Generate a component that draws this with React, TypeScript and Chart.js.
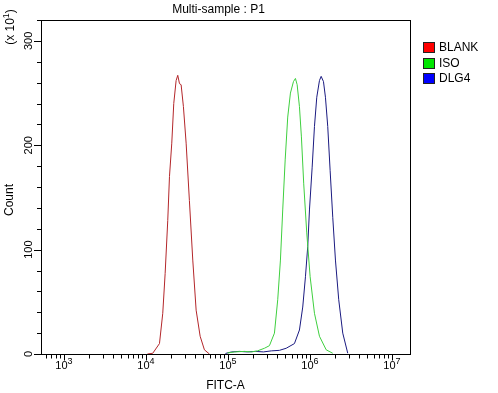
import React, { useEffect, useRef } from "react";
import { Chart, registerables } from "chart.js";

Chart.register(...registerables);

const FONT = "'Liberation Sans', Arial, sans-serif";

const TITLE = "Multi-sample : P1";
const X_TITLE = "FITC-A";
const Y_TITLE = "Count";
const Y_MULT_BASE = "(x 10";
const Y_MULT_EXP = "1";

const SERIES_LABELS = ["BLANK", "ISO", "DLG4"];
const LINE_COLORS = ["#b3262a", "#3fcf3f", "#1a1a80"];
const LEGEND_COLORS = ["#ff0000", "#00e600", "#0000ff"];

const X_MIN = 525;
const X_MAX = 1.66e7;
const Y_MIN = 0;
const Y_MAX = 320;
const Y_STEP = 20;
const Y_LABEL_EVERY = 100;

const blankX = [10420, 12100, 14620, 16030, 17140, 18450, 19360, 20650, 21830, 23330, 24430, 25650, 26850, 28640, 30900, 33880, 37240, 40930, 45810, 51640, 59430];
const blankY = [0, 0.7, 10, 39, 77, 128, 170, 202, 240, 262, 267, 259, 258, 237, 202, 147, 90, 42, 17, 4, 0];

const isoX = [98600, 119900, 158900, 193600, 229100, 278600, 320600, 369000, 404600, 436500, 465600, 498900, 535800, 578100, 629500, 665300, 698200, 744700, 787000, 839500, 914100, 1005000, 1135000, 1306000, 1578000, 1897000];
const isoY = [1, 2, 2.5, 2, 3, 5.5, 8, 20, 52, 90, 138, 186, 227, 250, 261, 264, 258, 237, 208, 163, 116, 74, 39, 17, 4, 0.7];

const dlg4X = [93200, 110400, 138000, 172900, 216300, 271000, 339000, 424300, 512900, 647100, 744700, 816600, 881000, 939800, 986300, 1064000, 1135000, 1211000, 1306000, 1370000, 1462000, 1545000, 1648000, 1762000, 1897000, 2046000, 2244000, 2512000, 2891000];
const dlg4Y = [0.5, 2, 2.5, 2, 2.5, 2, 3, 3.5, 5.5, 10, 23, 45, 74, 103, 138, 179, 218, 246, 262, 266, 261, 246, 218, 176, 131, 90, 52, 20, 0.7];

function toPoints(xs: number[], ys: number[]) {
  return xs.map((x, i) => ({ x, y: ys[i] }));
}

function isDecade(v: number) {
  const l = Math.log10(v);
  return Math.abs(l - Math.round(l)) < 1e-9;
}

// draws "base" followed by a raised smaller exponent, centred on (cx, baselineY) horizontally
function drawPower(ctx: any, base: string, exp: string, cx: number, baseY: number, size: number, supSize: number, rise: number, tail = "") {
  ctx.font = `${size}px ${FONT}`;
  const wb = ctx.measureText(base).width;
  const wt = tail ? ctx.measureText(tail).width : 0;
  ctx.font = `${supSize}px ${FONT}`;
  const we = ctx.measureText(exp).width;
  let x = cx - (wb + we + wt) / 2;
  ctx.textAlign = "left";
  ctx.textBaseline = "alphabetic";
  ctx.font = `${size}px ${FONT}`;
  ctx.fillText(base, x, baseY);
  x += wb;
  ctx.font = `${supSize}px ${FONT}`;
  ctx.fillText(exp, x, baseY - rise);
  x += we;
  if (tail) {
    ctx.font = `${size}px ${FONT}`;
    ctx.fillText(tail, x, baseY);
  }
}

const framePlugin = {
  id: "frameAndTicks",
  afterDraw(chart: any) {
    const { ctx, chartArea } = chart;
    const { left, right, top, bottom } = chartArea;
    const xs = chart.scales.x;
    const ys = chart.scales.y;
    ctx.save();
    ctx.strokeStyle = "#000";
    ctx.lineWidth = 1;
    ctx.strokeRect(Math.round(left) + 0.5, Math.round(top) + 0.5, Math.round(right - left), Math.round(bottom - top));
    ctx.beginPath();
    for (const t of xs.ticks) {
      const px = Math.round(xs.getPixelForValue(t.value)) + 0.5;
      if (px < left || px > right + 1) continue;
      const len = isDecade(t.value) ? 6 : 4;
      ctx.moveTo(px, Math.round(bottom));
      ctx.lineTo(px, Math.round(bottom) + len + 0.5);
    }
    for (const t of ys.ticks) {
      const py = Math.round(ys.getPixelForValue(t.value)) + 0.5;
      const len = t.value % Y_LABEL_EVERY === 0 ? 7 : 4;
      ctx.moveTo(Math.round(left) - len, py);
      ctx.lineTo(Math.round(left) + 1, py);
    }
    ctx.stroke();

    ctx.fillStyle = "#000";

    // x tick labels: 10^n
    for (const t of xs.ticks) {
      if (!isDecade(t.value)) continue;
      const px = xs.getPixelForValue(t.value);
      const e = Math.round(Math.log10(t.value));
      drawPower(ctx, "10", String(e), px, Math.round(bottom) + 15, 11, 9, 5);
    }

    // title
    ctx.font = `12px ${FONT}`;
    ctx.textAlign = "center";
    ctx.textBaseline = "middle";
    ctx.fillText(TITLE, (left + right) / 2 - 7, 10);

    // axis titles on the left
    ctx.save();
    ctx.translate(10, (top + bottom) / 2 + 13);
    ctx.rotate(-Math.PI / 2);
    ctx.fillText(Y_TITLE, 0, 0);
    ctx.restore();
    ctx.save();
    ctx.translate(14, top + 7);
    ctx.rotate(-Math.PI / 2);
    drawPower(ctx, Y_MULT_BASE, Y_MULT_EXP, 0, 0, 12, 9, 5, ")");
    ctx.restore();

    // legend
    ctx.font = `12px ${FONT}`;
    ctx.textAlign = "left";
    ctx.textBaseline = "middle";
    chart.data.datasets.forEach((ds: any, i: number) => {
      const bx = Math.round(right) + 13;
      const by = Math.round(top) + 22 + Math.round(i * 15.5);
      ctx.fillStyle = LEGEND_COLORS[i];
      ctx.fillRect(bx, by, 12, 11);
      ctx.strokeStyle = "#222";
      ctx.strokeRect(bx + 0.5, by + 0.5, 11, 10);
      ctx.fillStyle = "#000";
      ctx.fillText(ds.label, bx + 16, by + 6);
    });
    ctx.restore();
  },
};

export default function App() {
  const ref = useRef<HTMLCanvasElement>(null);
  useEffect(() => {
    if (!ref.current) return;
    Chart.defaults.color = "#000";
    Chart.defaults.font.family = FONT;
    const chart = new Chart(ref.current, {
      type: "line",
      data: {
        datasets: [
          { label: SERIES_LABELS[0], data: toPoints(blankX, blankY), borderColor: LINE_COLORS[0] },
          { label: SERIES_LABELS[1], data: toPoints(isoX, isoY), borderColor: LINE_COLORS[1] },
          { label: SERIES_LABELS[2], data: toPoints(dlg4X, dlg4Y), borderColor: LINE_COLORS[2] },
        ].map((d) => ({ ...d, borderWidth: 1, pointRadius: 0, fill: false, tension: 0 })),
      },
      options: {
        animation: false,
        responsive: false,
        devicePixelRatio: 1,
        layout: { padding: { left: 0, right: 88, top: 20, bottom: 0 } },
        plugins: {
          legend: { display: false },
          tooltip: { enabled: false },
          title: { display: false },
        },
        scales: {
          x: {
            type: "logarithmic",
            min: X_MIN,
            max: X_MAX,
            afterBuildTicks: (s: any) => {
              const ticks: any[] = [];
              for (let e = 2; e <= 7; e++) {
                for (let m = 1; m <= 9; m++) {
                  const v = m * Math.pow(10, e);
                  if (v >= X_MIN && v <= X_MAX) ticks.push({ value: v, major: m === 1 });
                }
              }
              s.ticks = ticks;
            },
            afterFit: (s: any) => { s.height = 39; },
            grid: { display: false, drawTicks: false },
            border: { display: false },
            ticks: { display: false, autoSkip: false },
            title: { display: true, text: X_TITLE, font: { size: 12, family: FONT }, padding: { top: 0, bottom: 0 } },
          },
          y: {
            type: "linear",
            min: Y_MIN,
            max: Y_MAX,
            afterFit: (s: any) => { s.width = 41; },
            grid: { display: false, drawTicks: false },
            border: { display: false },
            ticks: {
              stepSize: Y_STEP,
              autoSkip: false,
              minRotation: 90,
              maxRotation: 90,
              crossAlign: "center",
              padding: 3,
              font: { size: 11, family: FONT },
              callback: (v: any) => (Number(v) % Y_LABEL_EVERY === 0 ? String(v) : ""),
            },
          },
        },
      },
      plugins: [framePlugin],
    } as any);
    return () => chart.destroy();
  }, []);
  return (
    <div style={{ position: "absolute", left: 0, top: 0, width: 498, height: 393, background: "#fff" }}>
      <canvas ref={ref} width={498} height={393} />
    </div>
  );
}
